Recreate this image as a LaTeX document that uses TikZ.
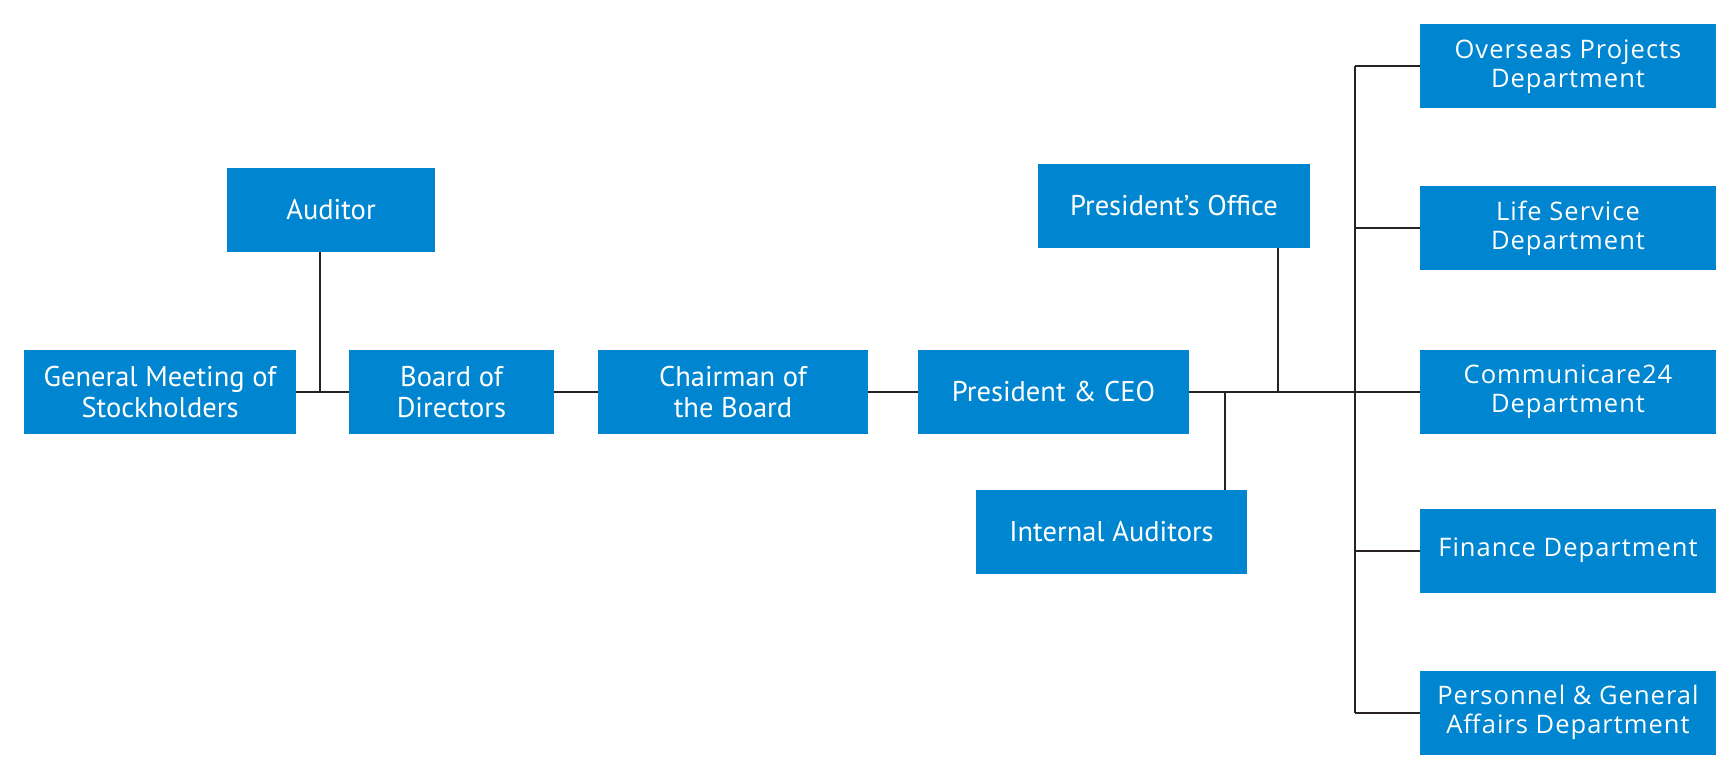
\documentclass[tikz,border=0pt]{standalone}
\usepackage{fontspec}
\setmainfont{PT Sans}
\newfontfamily\rightfont[LetterSpace=4]{Open Sans}
\definecolor{boxblue}{RGB}{0,134,208}
\definecolor{linegray}{RGB}{40,34,34}
\begin{document}
\begin{tikzpicture}[x=1pt,y=-1pt,
  box/.style={fill=boxblue, draw=none, text=white, align=center, inner sep=0pt,
    minimum height=84pt, font=\fontsize{28.5}{31}\selectfont},
  rbox/.style={box, minimum width=296pt, font=\rightfont\fontsize{25.5}{29}\selectfont},
  conn/.style={draw=linegray, line width=2pt}]
\useasboundingbox (0,0) rectangle (1730,781);
% left/main nodes
\node[box, minimum width=208pt] (aud) at (331,210) {Auditor};
\node[box, minimum width=272pt] (gm) at (160,392) {General Meeting of\\Stockholders};
\node[box, minimum width=205pt] (bod) at (451.5,392) {Board of\\Directors};
\node[box, minimum width=270pt] (chair) at (733,392) {Chairman of\\the Board};
\node[box, minimum width=271pt] (ceo) at (1053.5,392) {President \& CEO};
\node[box, minimum width=272pt] (po) at (1174,206) {President’s Office};
\node[box, minimum width=271pt] (ia) at (1111.5,532) {Internal Auditors};
% right column
\node[rbox] (over) at (1568,66.5) {Overseas Projects\\Department};
\node[rbox] (life) at (1568,228) {Life Service\\Department};
\node[rbox] (comm) at (1568,392) {Communicare24\\Department};
\node[rbox] (fin) at (1568,550.5) {Finance Department};
\node[rbox] (pers) at (1568,712.5) {Personnel \& General\\Affairs Department};
% junction coordinates
\coordinate (jaud) at (320,392);
\coordinate (jia) at (1225,392);
\coordinate (jpo) at (1278,392);
\coordinate (trunk) at (1355,392);
% connectors
\draw[conn] (gm.east) -- (bod.west);
\draw[conn] (jaud |- aud.south) -- (jaud);
\draw[conn] (bod.east) -- (chair.west);
\draw[conn] (chair.east) -- (ceo.west);
\draw[conn] (ceo.east) -- (comm.west);
\draw[conn] (jia) -- (jia |- ia.north);
\draw[conn] (jpo) -- (jpo |- po.south);
\draw[conn] (trunk |- over.west) -- (trunk |- pers.west);
\draw[conn] (trunk |- over.west) -- (over.west);
\draw[conn] (trunk |- life.west) -- (life.west);
\draw[conn] (trunk |- fin.west) -- (fin.west);
\draw[conn] (trunk |- pers.west) -- (pers.west);
\end{tikzpicture}
\end{document}
